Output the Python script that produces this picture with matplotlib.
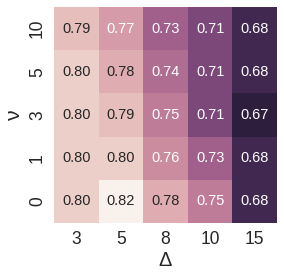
import numpy as np
import pandas as pd
import matplotlib
matplotlib.use('Agg')
import matplotlib.pyplot as plt
import seaborn as sns

sns.set_style('darkgrid')
plt.rcParams['font.family'] = ['Liberation Sans', 'DejaVu Sans']

deltas = [3, 5, 8, 10, 15]
nus = [10, 5, 3, 1, 0]
scores = [
    [0.79, 0.77, 0.73, 0.71, 0.68],
    [0.80, 0.78, 0.74, 0.71, 0.68],
    [0.80, 0.79, 0.75, 0.71, 0.67],
    [0.80, 0.80, 0.76, 0.73, 0.68],
    [0.80, 0.82, 0.78, 0.75, 0.68],
]

df = pd.DataFrame(scores, index=nus, columns=deltas)

fig = plt.figure(figsize=(284/72, 278/72), dpi=72)
ax = fig.add_axes([54/284, 1 - 223/278, 223/284, 216/278])
cmap = sns.cubehelix_palette(light=.95, reverse=True, as_cmap=True)
sns.heatmap(df, annot=True, fmt='.2f', cmap=cmap, cbar=False, ax=ax,
            annot_kws={'fontsize': 14.5})
ax.set_xlabel('Δ', fontsize=20, labelpad=3)
ax.set_ylabel('ν', fontsize=21, labelpad=5)
ax.tick_params(labelsize=17.5, length=0, pad=8)
fig.savefig('out.png', dpi=72)
